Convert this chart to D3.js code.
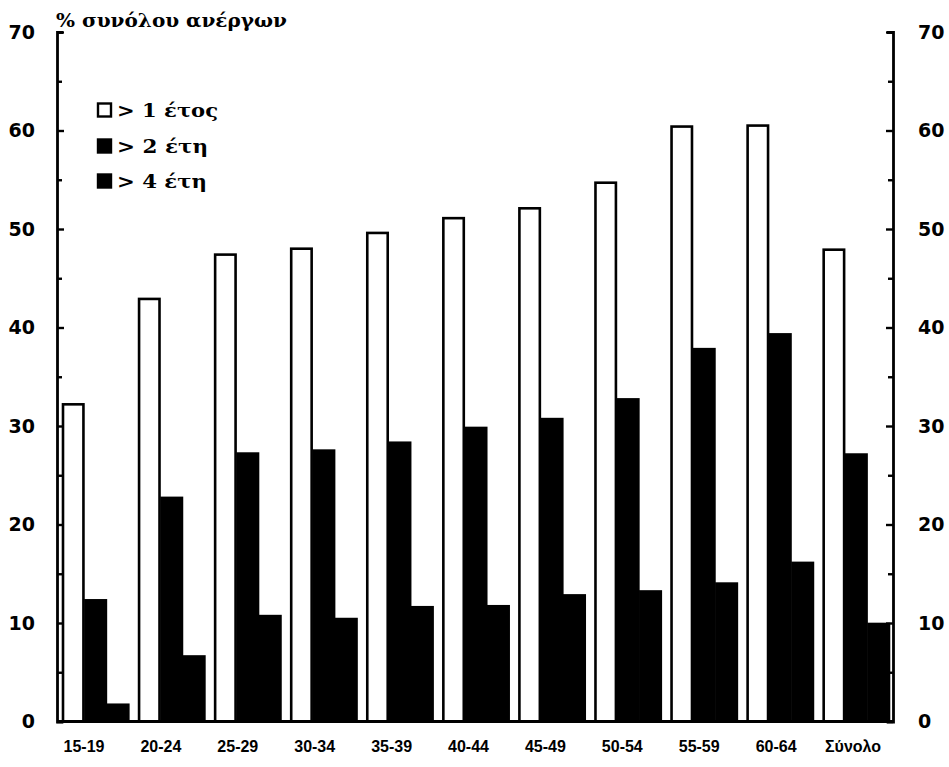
<!DOCTYPE html>
<html><head><meta charset="utf-8">
<script src="https://cdn.jsdelivr.net/npm/d3@7"></script>
<style>body{margin:0;background:#fff}</style>
</head><body>
<svg id="c" width="949" height="767"></svg>
<script>
const categories = ["15-19","20-24","25-29","30-34","35-39","40-44","45-49","50-54","55-59","60-64","Σύνολο"];
const over1 = [32.2,42.9,47.4,48.0,49.6,51.1,52.1,54.7,60.4,60.5,47.9];
const over2 = [12.3,22.7,27.2,27.5,28.3,29.8,30.7,32.7,37.8,39.3,27.1];
const over4 = [1.7,6.6,10.7,10.4,11.6,11.7,12.8,13.2,14.0,16.1,9.9];
const seriesNames = ["> 1 έτος","> 2 έτη","> 4 έτη"];
const seriesFill = ["#fff","#000","#000"];
const yTicks = [0,10,20,30,40,50,60,70];
const yLabel = "% συνόλου ανέργων";

const svg = d3.select("#c");
const L = 57, R = 893, T = 32, B = 721.5;
const y = d3.scaleLinear().domain([0,70]).range([B,T]);
const x0 = d3.scaleBand().domain(categories).range([62,890]).paddingInner(0.115).paddingOuter(0);
const x1 = d3.scaleBand().domain(d3.range(3)).range([0,x0.bandwidth()]).padding(0);
const xLab = d3.scalePoint().domain(categories).range([84,853]);
const series = [over1,over2,over4];

const g = svg.append("g");
categories.forEach((c,i)=>{
  series.forEach((s,j)=>{
    g.append("rect")
      .attr("x", x0(c)+x1(j)+1)
      .attr("y", y(s[i]))
      .attr("width", x1.bandwidth()-2)
      .attr("height", B - y(s[i]))
      .attr("fill", seriesFill[j])
      .attr("stroke","#000").attr("stroke-width",2.6);
  });
});

// axes
const minor = d3.range(0,71,5);
const axL = d3.axisLeft(y).tickValues(minor).tickSize(-6).tickFormat(d=> yTicks.includes(d)? d : "");
const axR = d3.axisRight(y).tickValues(minor).tickSize(-6).tickFormat(d=> yTicks.includes(d)? d : "");
const gl = svg.append("g").attr("transform",`translate(${L},0)`).call(axL);
const gr = svg.append("g").attr("transform",`translate(${R},0)`).call(axR);
[[gl,1],[gr,-1]].forEach(([a,s])=>{
  a.select(".domain").attr("stroke","#000").attr("stroke-width",2.8);
  a.selectAll(".tick line").attr("stroke","#000").attr("stroke-width",2.4)
    .attr("x2", d=> s*(d%10===0?7:5));
  a.selectAll(".tick text").attr("font-family","DejaVu Sans, sans-serif")
    .attr("font-size",19).attr("font-weight","bold").attr("fill","#000");
});
gl.selectAll(".tick text").attr("x",-22);
gr.selectAll(".tick text").attr("x",25);

// baseline
svg.append("line").attr("x1",L).attr("x2",R).attr("y1",B).attr("y2",B).attr("stroke","#000").attr("stroke-width",2.8);

// category labels
svg.append("g").selectAll("text").data(categories).join("text")
  .attr("x", d=> xLab(d))
  .attr("y", 752)
  .attr("text-anchor","middle")
  .attr("font-family","Liberation Sans, Arial, sans-serif")
  .attr("font-size",16).attr("font-weight","bold")
  .text(d=>d);

// y label
svg.append("text").attr("x",56).attr("y",27)
  .attr("font-family","DejaVu Serif, serif")
  .attr("font-size",19).attr("font-weight","bold")
  .attr("textLength",231).attr("lengthAdjust","spacingAndGlyphs")
  .text(yLabel);

// legend
const legCy = [110,146,181];
const legW = [101,91,90];
const leg = svg.append("g");
seriesNames.forEach((n,i)=>{
  const cy = legCy[i];
  leg.append("rect").attr("x",98).attr("y",cy-6.5).attr("width",13).attr("height",13)
    .attr("fill",seriesFill[i]).attr("stroke","#000").attr("stroke-width",2.4);
  leg.append("text").attr("x",117).attr("y",cy+7)
    .attr("font-family","DejaVu Serif, serif")
    .attr("font-size",19).attr("font-weight","bold")
    .attr("textLength",legW[i]).attr("lengthAdjust","spacingAndGlyphs")
    .text(n);
});
</script>
</body></html>
